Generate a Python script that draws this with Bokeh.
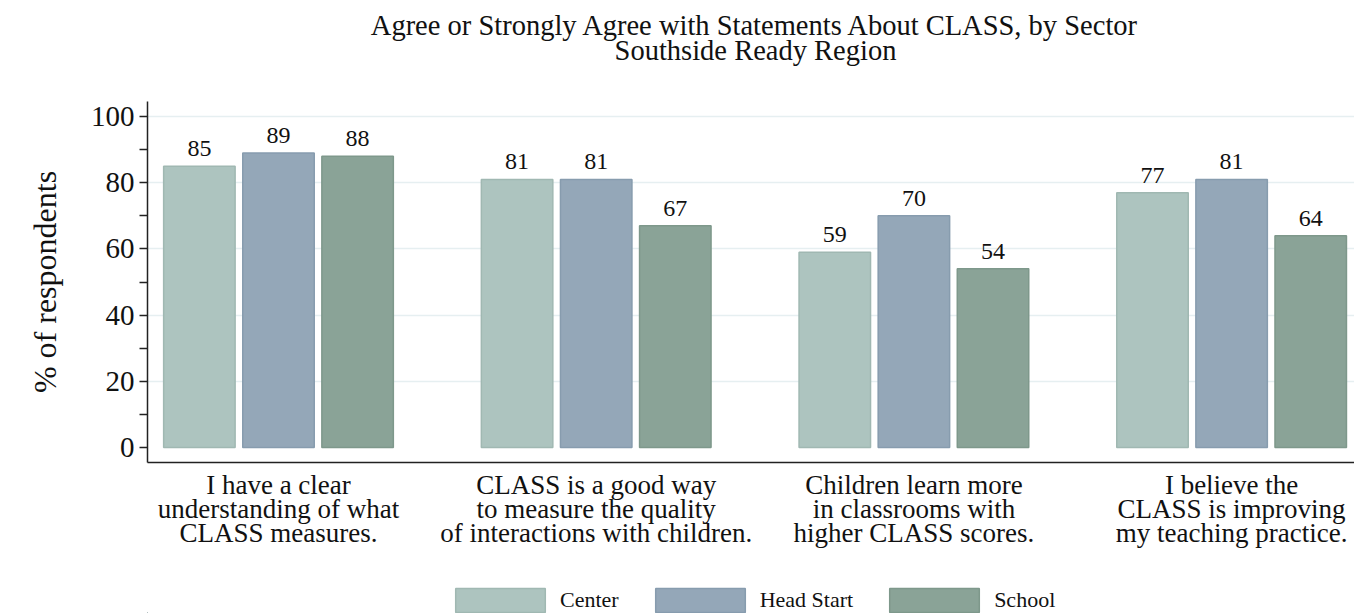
from bokeh.plotting import figure
from bokeh.models import FixedTicker, Legend, LegendItem, ColumnDataSource, Range1d
from bokeh.core.properties import value
from bokeh.layouts import column
from bokeh.embed import file_html
from bokeh.resources import INLINE

title_lines = ["Agree or Strongly Agree with Statements About CLASS, by Sector",
               "Southside Ready Region"]
statements = [
    "I have a clear\nunderstanding of what\nCLASS measures.",
    "CLASS is a good way\nto measure the quality\nof interactions with children.",
    "Children learn more\nin classrooms with\nhigher CLASS scores.",
    "I believe the\nCLASS is improving\nmy teaching practice.",
]
sectors = ["Center", "Head Start", "School"]
center = [85, 81, 59, 77]
head_start = [89, 81, 70, 81]
school = [88, 67, 54, 64]
y_ticks = [0, 20, 40, 60, 80, 100]
y_minor = [10, 30, 50, 70, 90]

fills = ["#adc4bf", "#94a7b8", "#8aa397"]
lines = ["#a0b8b2", "#879cae", "#7e988b"]

FONT = "Liberation Serif"
INK = "#111111"
W = 1354
LEFT = 147
H_HEAD, H_MAIN, H_LEG = 90, 472, 51


def bare(h, y_range):
    f = figure(width=W, height=h, output_backend="svg", toolbar_location=None, title=None,
               x_axis_type=None, y_axis_type=None, x_range=Range1d(LEFT, W), y_range=y_range,
               min_border=0, min_border_left=LEFT, min_border_right=0,
               min_border_top=0, min_border_bottom=0)
    f.outline_line_color = None
    f.grid.visible = False
    return f


# ---- header with the two title lines (pixel coordinates, y measured up from strip bottom)
head = bare(H_HEAD, Range1d(0, H_HEAD))
head.text(x=[755, 755], y=[H_HEAD - 24.5, H_HEAD - 49.5], text=title_lines,
          text_align="center", text_baseline="alphabetic", text_font=value(FONT),
          text_font_size="28.5px", text_color=INK)

# ---- main chart
p = figure(width=W, height=H_MAIN, output_backend="svg", toolbar_location=None, title=None,
           x_range=Range1d(-0.4123, 3.3868), y_range=Range1d(-4.53, 104.53),
           min_border_left=LEFT, min_border_right=0, min_border_top=11, min_border_bottom=100)
p.outline_line_color = None

series = [center, head_start, school]
offset = 0.249
width = 0.225
sources = []
for i, (name, vals) in enumerate(zip(sectors, series)):
    xs = [k + (i - 1) * offset for k in range(len(vals))]
    src = ColumnDataSource(dict(x=xs, top=vals, lab=[str(v) for v in vals]))
    sources.append(src)
    p.vbar(x="x", top="top", bottom=0, width=width, source=src,
           fill_color=fills[i], line_color=lines[i], line_width=1.5)
    p.text(x="x", y="top", text="lab", source=src, text_align="center",
           text_baseline="bottom", y_offset=-10, text_font_size="24px",
           text_font=value(FONT), text_color=INK)

p.yaxis.ticker = FixedTicker(ticks=y_ticks, minor_ticks=y_minor)
p.yaxis.major_tick_out = 8
p.yaxis.major_tick_in = 0
p.yaxis.minor_tick_out = 8
p.yaxis.minor_tick_in = 0
p.yaxis.major_label_standoff = 5
p.yaxis.major_label_text_font = FONT
p.yaxis.major_label_text_font_size = "29px"
p.yaxis.major_label_text_color = INK
p.yaxis.axis_label = "% of respondents"
p.yaxis.axis_label_text_font = FONT
p.yaxis.axis_label_text_font_size = "32px"
p.yaxis.axis_label_text_font_style = "normal"
p.yaxis.axis_label_text_color = INK
p.yaxis.axis_label_standoff = 25
p.yaxis.axis_line_width = 1.5
p.yaxis.axis_line_color = "#222222"
p.yaxis.major_tick_line_color = "#222222"
p.yaxis.minor_tick_line_color = "#222222"
p.yaxis.major_tick_line_width = 1.5
p.yaxis.minor_tick_line_width = 1.5

p.xaxis.ticker = FixedTicker(ticks=[0, 1, 2, 3])
p.xaxis.major_label_overrides = {i: s for i, s in enumerate(statements)}
p.xaxis.major_tick_line_color = None
p.xaxis.minor_tick_line_color = None
p.xaxis.major_tick_out = 0
p.xaxis.major_label_standoff = 7
p.xaxis.major_label_text_font = FONT
p.xaxis.major_label_text_font_size = "27px"
p.xaxis.major_label_text_color = INK
p.xaxis.major_label_text_line_height = 0.8
p.xaxis.axis_line_width = 1.5
p.xaxis.axis_line_color = "#222222"

p.xgrid.grid_line_color = None
p.ygrid.ticker = FixedTicker(ticks=[20, 40, 60, 80, 100])
p.ygrid.grid_line_color = "#e6eff1"
p.ygrid.grid_line_width = 1.5

# ---- legend strip: key renderers share the series sources, their bars lie outside this strip's view
leg = bare(H_LEG, Range1d(1000, 1000 + H_LEG))
items = []
for i, name in enumerate(sectors):
    r = leg.vbar(x="x", top="top", bottom=0, width=width, source=sources[i],
                 fill_color=fills[i], line_color=lines[i], line_width=1.5)
    items.append(LegendItem(label=name, renderers=[r]))
legend = Legend(items=items, orientation="horizontal", location=(297, -2),
                glyph_width=112, glyph_height=30, label_standoff=4, spacing=25,
                padding=0, margin=0, border_line_color=None, background_fill_alpha=0,
                label_text_font=FONT, label_text_font_size="22px", label_text_color=INK,
                label_text_line_height=0.9)
leg.add_layout(legend, "center")

root = column(head, p, leg, spacing=0)
open("out.html", "w").write(file_html(root, INLINE))
